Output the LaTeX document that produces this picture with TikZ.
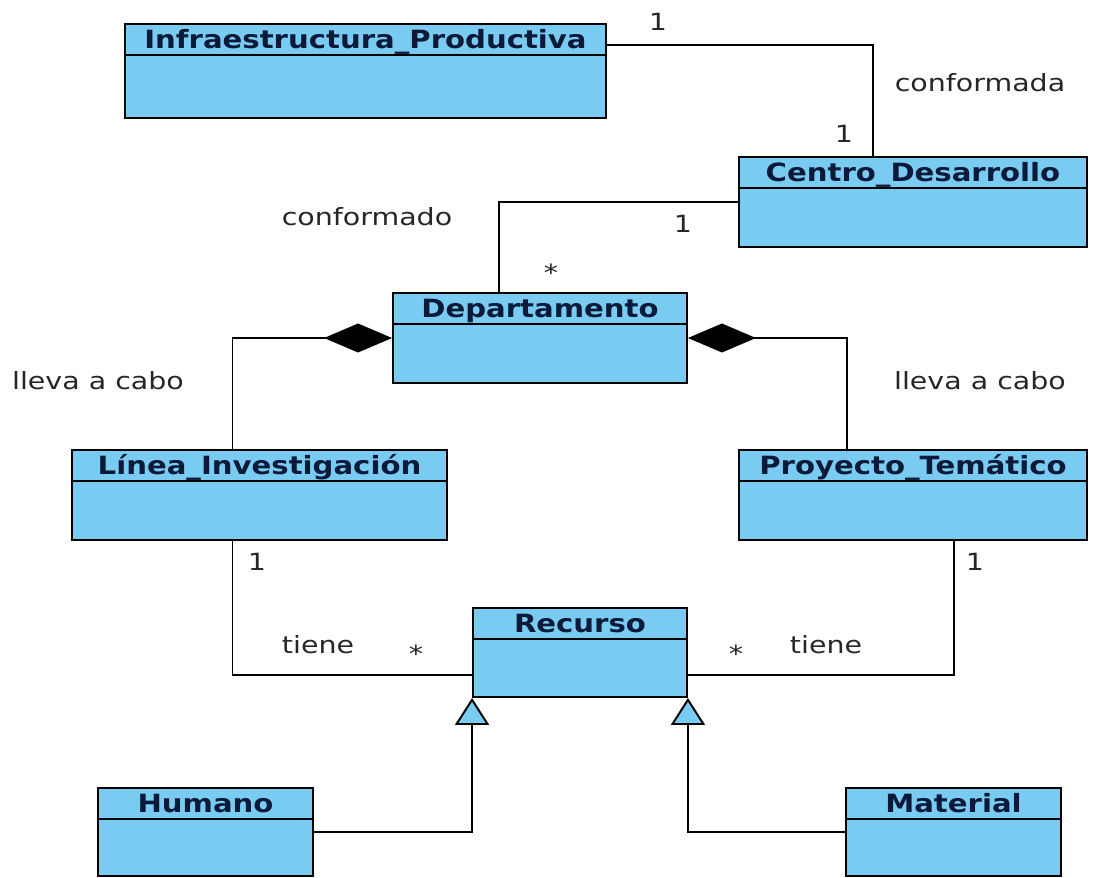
\documentclass[tikz,border=0pt]{standalone}
\usepackage{fontspec}
\setmainfont{DejaVu Sans}
\newfontfamily\fuentetitulo[FakeStretch=1.16]{DejaVu Sans}
\newfontfamily\fuenteetiq[FakeStretch=1.2]{DejaVu Sans}
\usepackage{tikz}
\usetikzlibrary{calc,arrows.meta}
\definecolor{clase}{RGB}{121,203,241}
\definecolor{tinta}{RGB}{12,26,58}

\begin{document}
\begin{tikzpicture}
    [%%%%%%%%%%%%%%%%%%%%%%%%%%%%%%
        x=0.02cm, y=-0.02cm,
        caja/.style={rectangle,draw=black,fill=clase,line width=1.1pt,inner sep=0pt},
        titulo/.style={anchor=base,inner sep=0pt,text=tinta,font=\fuentetitulo\fontsize{14.3}{16}\selectfont\bfseries},
        etiq/.style={anchor=base,inner sep=0pt,text=black!85,font=\fuenteetiq\fontsize{13.5}{15}\selectfont},
        conector/.style={line width=1.1pt},
        compo/.style={conector,{Diamond[length=1.36cm,width=0.58cm]}-},
        hereda/.style={conector,-{Triangle[length=0.54cm,width=0.68cm,fill=clase]}},
    ]%%%%%%%%%%%%%%%%%%%%%%%%%%%%%%

\useasboundingbox (0,0) rectangle (1107,878);

% clases
\foreach \n/\cx/\cy/\w/\h/\t in {
	infra/365.5/71/9.62/1.88/{Infraestructura\_Productiva},
	centro/913/202/6.96/1.8/{Centro\_Desarrollo},
	depto/540/338/5.88/1.8/{Departamento},
	linea/259.5/495/7.5/1.8/{Línea\_Investigación},
	proyecto/913/495/6.96/1.8/{Proyecto\_Temático},
	recurso/580/652.5/4.28/1.78/{Recurso},
	humano/205.5/832/4.3/1.76/{Humano},
	material/953.5/832/4.3/1.76/{Material}}{
		\node[caja,minimum width=\w cm,minimum height=\h cm] (\n) at (\cx,\cy){ };
		\draw[conector] ($(\n.north west)+(0,32)$) -- ($(\n.north east)+(0,32)$);
		\node[titulo] (\n-t) at ($(\n.north)+(0,25)$){\t};
}

% asociaciones
\coordinate (k1) at (873,45);
\draw[conector] (infra.east |- k1) -- (k1) -- (centro.north -| k1);
\draw[conector] (centro.west) -| ($(depto.north)+(-41,0)$);
\draw[compo] (depto.west) -| ($(linea.north)+(-27,0)$);
\draw[compo] (depto.east) -| ($(proyecto.north)+(-66,0)$);
\draw[conector] ($(linea.south)+(-27,0)$) |- ($(recurso.west)+(0,22.5)$);
\draw[conector] ($(proyecto.south)+(41,0)$) |- ($(recurso.east)+(0,22.5)$);
\draw[hereda] (humano.east) -| (recurso.south west);
\draw[hereda] (material.west) -| (recurso.south east);

% etiquetas
\foreach \n/\x/\y/\t in {
	m1/658/31/1, r1/980/92/conformada, m2/844/143/1,
	r2/367/226/conformado, m3/683/233/1, m4/551/282/*,
	r3/98/390/lleva a cabo, r4/980/390/lleva a cabo,
	m5/257/571/1, m6/975/571/1,
	r5/318/654/tiene, m7/416/663/*, m8/736/663/*, r6/826/654/tiene}{
		\node[etiq] (\n) at (\x,\y){\t};
}

\end{tikzpicture}
\end{document}
